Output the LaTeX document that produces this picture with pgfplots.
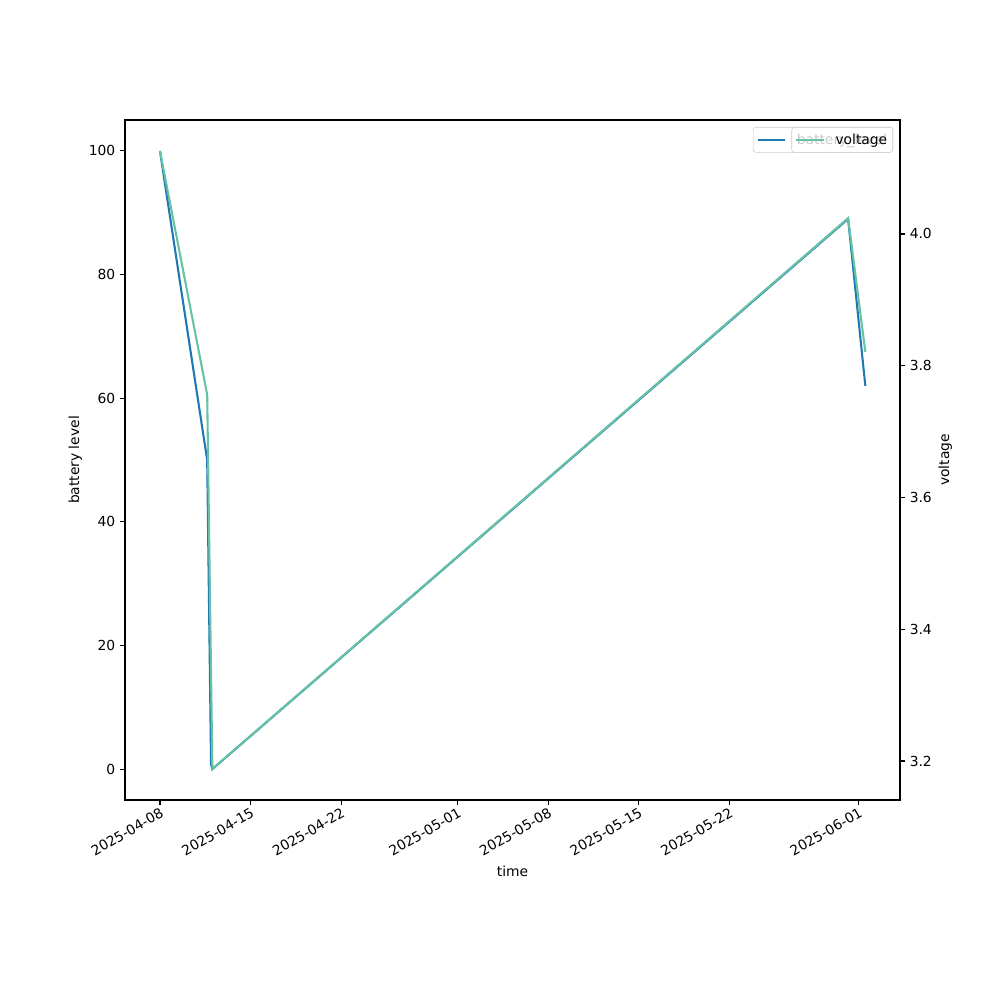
\documentclass[border=0pt]{standalone}
\usepackage{fontspec}
\setmainfont{DejaVu Sans}
\usepackage{pgfplots}
\pgfplotsset{compat=1.18}
\definecolor{batt}{HTML}{1F77B4}
\definecolor{volt}{HTML}{66C2A5}
\definecolor{legframe}{HTML}{CCCCCC}

% day 0 = 2025-04-08
\pgfplotstableread{
day level
0     100
3.65  50
3.95  0.8
4.05  0
53.17 89
54.5  62
}\battery
\pgfplotstableread{
day volt
0     4.126
3.65  3.756
4.05  3.188
53.17 4.024
54.5  3.821
}\voltage

\pgfplotsset{
  common/.style={
    scale only axis,
    width=7.75in, height=6.8in,
    at={(1.25in,2in)}, anchor=south west,
    xmin=-2.7, xmax=57.18,
    tick align=outside,
    major tick length=3.5bp,
    every tick/.style={black, line width=0.8bp},
    axis line style={line width=0.8bp},
    tick label style={font=\fontsize{10}{12}\selectfont},
    label style={font=\fontsize{10}{12}\selectfont},
    /pgf/number format/assume math mode=true,
    legend style={
      at={(0.991,0.9897)}, anchor=north east,
      draw=legframe, rounded corners=2bp,
      fill=white, fill opacity=0.8, draw opacity=1, text opacity=1,
      font=\fontsize{10}{12}\selectfont,
      inner xsep=2.5bp, inner ysep=3bp,
      nodes={inner sep=1.5bp},
      /tikz/every odd column/.append style={column sep=6bp},
    },
    legend cell align=left,
    legend image code/.code={\draw[##1] (0bp,0bp) -- (20bp,0bp);},
  },
}

\begin{document}
\begin{tikzpicture}
\path (0,0) rectangle (10in,10in);

\begin{axis}[
  common,
  ymin=-5, ymax=105,
  ytick={0,20,40,60,80,100},
  xtick={0,7,14,23,30,37,44,54},
  xticklabels={2025-04-08,2025-04-15,2025-04-22,2025-05-01,2025-05-08,2025-05-15,2025-05-22,2025-06-01},
  xticklabel style={rotate=30, anchor=north east, inner sep=1bp},
  xtick pos=bottom,
  ytick pos=left,
  xlabel={time},
  ylabel={battery level},
  xlabel style={yshift=-2bp},
  ylabel style={yshift=-2bp},
]
\addplot[color=batt, line width=1.5bp] table[x=day, y=level] {\battery};
\addlegendentry{battery\_level}
\end{axis}

\begin{axis}[
  common,
  ymin=3.1408, ymax=4.173,
  ytick={3.2,3.4,3.6,3.8,4.0},
  yticklabel style={/pgf/number format/.cd, fixed, fixed zerofill, precision=1},
  axis x line=none,
  axis y line*=right,
  ylabel={voltage},
  ylabel style={yshift=2bp},
]
\addplot[color=volt, line width=1.5bp] table[x=day, y=volt] {\voltage};
\addlegendentry{voltage}
\end{axis}
\end{tikzpicture}
\end{document}
